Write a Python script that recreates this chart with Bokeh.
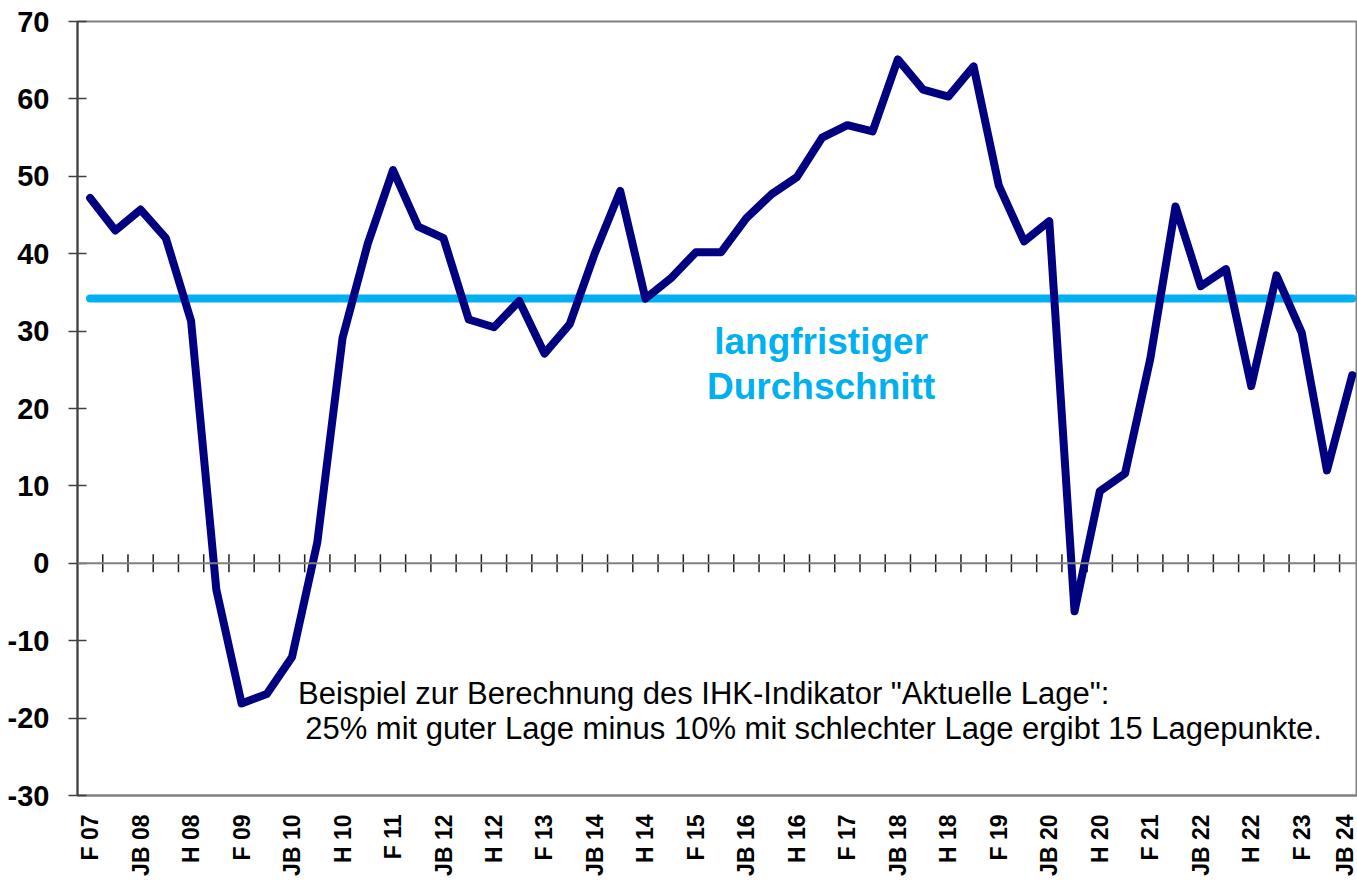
import math
from bokeh.plotting import figure
from bokeh.models import Range1d, FixedTicker, Label, Span
from bokeh.embed import file_html
from bokeh.resources import INLINE

# ---- data ----
labels_all = []
for yr in range(7, 25):
    for s in ["JB", "F", "H"]:
        if yr == 7 and s == "JB":
            continue
        if yr == 24 and s != "JB":
            continue
        labels_all.append(f"{s} {yr:02d}")

values = [47.2, 43.0, 45.7, 42.0, 31.3, -3.4, -18.1, -16.9, -12.1, 2.7,
          29.1, 41.3, 50.8, 43.5, 42.0, 31.5, 30.5, 33.9, 27.1, 30.9,
          40.1, 48.1, 34.2, 36.8, 40.2, 40.2, 44.6, 47.7, 49.9, 55.0,
          56.6, 55.8, 65.1, 61.2, 60.3, 64.2, 48.8, 41.6, 44.2, -6.2,
          9.3, 11.6, 26.4, 46.1, 35.8, 38.0, 22.9, 37.2, 29.8, 12.0,
          24.3]
long_term_avg = 34.2
y_ticks = [-30, -20, -10, 0, 10, 20, 30, 40, 50, 60, 70]
y_tick_labels = ["-30", "-20", "-10", "0", "10", "20", "30", "40", "50", "60", "70"]
avg_label = ["langfristiger", "Durchschnitt"]
note_lines = ["Beispiel zur Berechnung des IHK-Indikator \"Aktuelle Lage\":",
              "25% mit guter Lage minus 10% mit schlechter Lage ergibt 15 Lagepunkte."]

x = list(range(len(values)))

FONT = "Liberation Sans"
NAVY = "#000080"
SKY = "#00B0F0"

p = figure(width=1357, height=878, output_backend="svg", toolbar_location=None,
           x_range=Range1d(-0.5, 50.21), y_range=Range1d(-30, 70),
           min_border_left=77, min_border_right=0, min_border_top=21,
           min_border_bottom=77)
p.xgrid.visible = False
p.ygrid.visible = False
p.outline_line_color = "#808080"
p.outline_line_width = 2
p.background_fill_color = "white"
p.border_fill_color = "white"

# y axis
ya = p.yaxis[0]
ya.ticker = FixedTicker(ticks=y_ticks)
ya.major_label_overrides = dict(zip(y_ticks, y_tick_labels))
ya.axis_line_color = "#404040"
ya.axis_line_width = 2
ya.major_tick_line_color = "#404040"
ya.major_tick_line_width = 1.5
ya.major_tick_out = 9
ya.major_tick_in = 9
ya.minor_tick_line_color = None
ya.major_label_text_font = FONT
ya.major_label_text_font_style = "bold"
ya.major_label_text_font_size = "29px"
ya.major_label_text_color = "black"
ya.major_label_standoff = 19

# x axis (labels at bottom)
xa = p.xaxis[0]
tick_pos = x[::2]
xa.ticker = FixedTicker(ticks=tick_pos)
xa.major_label_overrides = {i: labels_all[i] for i in tick_pos}
xa.major_label_orientation = math.pi / 2
xa.axis_line_color = "#808080"
xa.axis_line_width = 2
xa.major_tick_line_color = None
xa.minor_tick_line_color = None
xa.major_label_text_font = FONT
xa.major_label_text_font_style = "bold"
xa.major_label_text_font_size = "23px"
xa.major_label_text_color = "black"
xa.major_label_standoff = 13

# zero line with category separator ticks
p.add_layout(Span(location=0, dimension="width", line_color="#808080", line_width=2))
sep = [i + 0.5 for i in x[:-1]]
tick_half = 9 / 7.74
p.segment(x0=sep, x1=sep, y0=[-tick_half] * len(sep), y1=[tick_half] * len(sep),
          line_color="#202020", line_width=1.5)

# long-term average
p.line([x[0], x[-1]], [long_term_avg, long_term_avg], line_color=SKY, line_width=8,
       line_cap="round")

# main series
p.line(x, values, line_color=NAVY, line_width=8, line_join="round", line_cap="round")

# labels
p.add_layout(Label(x=28.96, y=28.6, text=avg_label[0], text_align="center",
                   text_baseline="alphabetic", text_font=FONT, text_font_style="bold",
                   text_font_size="37px", text_color=SKY))
p.add_layout(Label(x=28.96, y=22.9, text=avg_label[1], text_align="center",
                   text_baseline="alphabetic", text_font=FONT, text_font_style="bold",
                   text_font_size="37px", text_color=SKY))
p.add_layout(Label(x=8.24, y=-16.8, text=note_lines[0], text_align="left",
                   text_baseline="alphabetic", text_font=FONT,
                   text_font_size="31px", text_color="black"))
p.add_layout(Label(x=8.52, y=-21.3, text=note_lines[1], text_align="left",
                   text_baseline="alphabetic", text_font=FONT,
                   text_font_size="31px", text_color="black"))

open("out.html", "w").write(file_html(p, INLINE))
